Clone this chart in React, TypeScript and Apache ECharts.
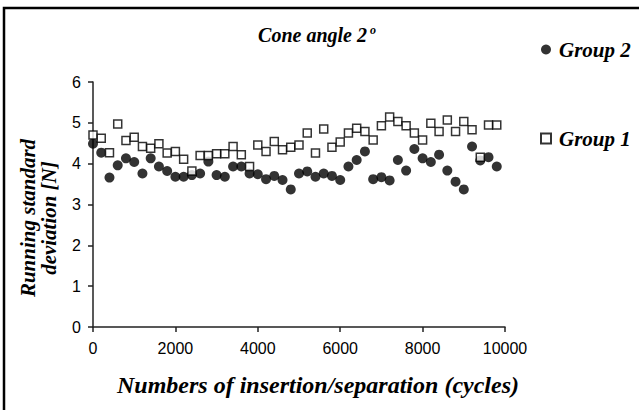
import React, { useEffect, useRef } from "react";
import * as echarts from "echarts";

const cycles = [
  0, 200, 400, 600, 800, 1000, 1200, 1400, 1600, 1800,
  2000, 2200, 2400, 2600, 2800, 3000, 3200, 3400, 3600, 3800,
  4000, 4200, 4400, 4600, 4800, 5000, 5200, 5400, 5600, 5800,
  6000, 6200, 6400, 6600, 6800, 7000, 7200, 7400, 7600, 7800,
  8000, 8200, 8400, 8600, 8800, 9000, 9200, 9400, 9600, 9800,
];

const group2 = [
  4.49, 4.27, 3.66, 3.96, 4.13, 4.04, 3.76, 4.13, 3.93, 3.82,
  3.68, 3.68, 3.72, 3.76, 4.05, 3.72, 3.68, 3.93, 3.93, 3.76,
  3.74, 3.62, 3.70, 3.60, 3.37, 3.76, 3.81, 3.68, 3.76, 3.70,
  3.60, 3.93, 4.09, 4.30, 3.62, 3.67, 3.59, 4.09, 3.83, 4.36,
  4.13, 4.04, 4.22, 3.83, 3.56, 3.37, 4.42, 4.08, 4.16, 3.93,
];

const group1 = [
  4.70, 4.62, 4.27, 4.97, 4.57, 4.65, 4.42, 4.38, 4.49, 4.26,
  4.30, 4.11, 3.82, 4.20, 4.20, 4.24, 4.24, 4.42, 4.22, 3.93,
  4.46, 4.30, 4.54, 4.34, 4.40, 4.46, 4.75, 4.26, 4.85, 4.40,
  4.53, 4.75, 4.87, 4.79, 4.58, 4.93, 5.14, 5.03, 4.93, 4.75,
  4.58, 4.99, 4.79, 5.07, 4.79, 5.03, 4.83, 4.16, 4.95, 4.95,
];

const seriesNames = ["Group 2", "Group 1"];
const titleText = "Cone angle 2";
const xTitle = "Numbers of insertion/separation (cycles)";
const yTitle = "Running standard\ndeviation [N]";

const serif = "'Liberation Serif', 'Times New Roman', serif";
const sans = "'Liberation Sans', Arial, sans-serif";

export default function App() {
  const ref = useRef<HTMLDivElement>(null);
  useEffect(() => {
    if (!ref.current) return;
    const chart = echarts.init(ref.current, null, { renderer: "svg" });
    chart.setOption({
      animation: false,
      backgroundColor: "#ffffff",
      grid: { left: 93, right: 134, top: 82, bottom: 83 },
      title: {
        text: titleText + "{sup|o}",
        left: 312,
        top: 19,
        textAlign: "center",
        textStyle: {
          fontFamily: serif,
          fontSize: 20,
          fontWeight: "bold",
          fontStyle: "italic",
          color: "#000",
          rich: {
            sup: {
              fontFamily: serif,
              fontSize: 12,
              fontWeight: "bold",
              fontStyle: "italic",
              color: "#000",
              verticalAlign: "top",
              padding: [0, 0, 10, 3],
            },
          },
        },
      },
      legend: {
        data: [
          { name: seriesNames[0], icon: "circle" },
          { name: seriesNames[1], icon: "rect" },
        ],
        orient: "vertical",
        left: 535,
        top: 34,
        itemGap: 68,
        itemWidth: 10,
        itemHeight: 10,
        textStyle: {
          fontFamily: serif,
          fontSize: 21,
          fontWeight: "bold",
          fontStyle: "italic",
          color: "#000",
          padding: [0, 0, 0, 3],
        },
      },
      xAxis: {
        type: "value",
        min: 0,
        max: 10000,
        interval: 2000,
        splitLine: { show: false },
        axisLine: { lineStyle: { color: "#222", width: 1.5 } },
        axisTick: { lineStyle: { color: "#222", width: 1.5 }, length: 5 },
        axisLabel: {
          fontFamily: sans,
          fontSize: 16,
          color: "#000",
          margin: 13,
          formatter: (v: number) => String(v),
        },
      },
      yAxis: {
        type: "value",
        min: 0,
        max: 6,
        interval: 1,
        splitLine: { show: false },
        axisLine: { show: true, lineStyle: { color: "#222", width: 1.5 } },
        axisTick: { show: true, lineStyle: { color: "#222", width: 1.5 }, length: 5 },
        axisLabel: { fontFamily: sans, fontSize: 16, color: "#000", margin: 12 },
      },
      graphic: [
        {
          type: "rect",
          shape: { x: 4, y: 8, width: 700, height: 500 },
          style: { fill: "none", stroke: "#000", lineWidth: 2.5 },
          silent: true,
        },
        {
          type: "text",
          x: 38,
          y: 218,
          rotation: Math.PI / 2,
          style: {
            text: yTitle,
            fontFamily: serif,
            fontSize: 21,
            fontWeight: "bold",
            fontStyle: "italic",
            fill: "#000",
            align: "center",
            verticalAlign: "middle",
            lineHeight: 21,
          },
        },
        {
          type: "text",
          x: 318,
          y: 385,
          style: {
            text: xTitle,
            fontFamily: serif,
            fontSize: 24,
            fontWeight: "bold",
            fontStyle: "italic",
            fill: "#000",
            align: "center",
            verticalAlign: "middle",
          },
        },
      ],
      series: [
        {
          name: seriesNames[0],
          type: "scatter",
          symbol: "circle",
          symbolSize: 10,
          itemStyle: { color: "#000" },
          data: cycles.map((c, i) => [c, group2[i]]),
        },
        {
          name: seriesNames[1],
          type: "scatter",
          symbol: "rect",
          symbolSize: 8,
          itemStyle: { color: "#fff", borderColor: "#000", borderWidth: 1.5 },
          data: cycles.map((c, i) => [c, group1[i]]),
        },
      ],
    });
    return () => chart.dispose();
  }, []);
  return (
    <div
      ref={ref}
      style={{ position: "fixed", left: 0, top: 0, width: 639, height: 410 }}
    />
  );
}
